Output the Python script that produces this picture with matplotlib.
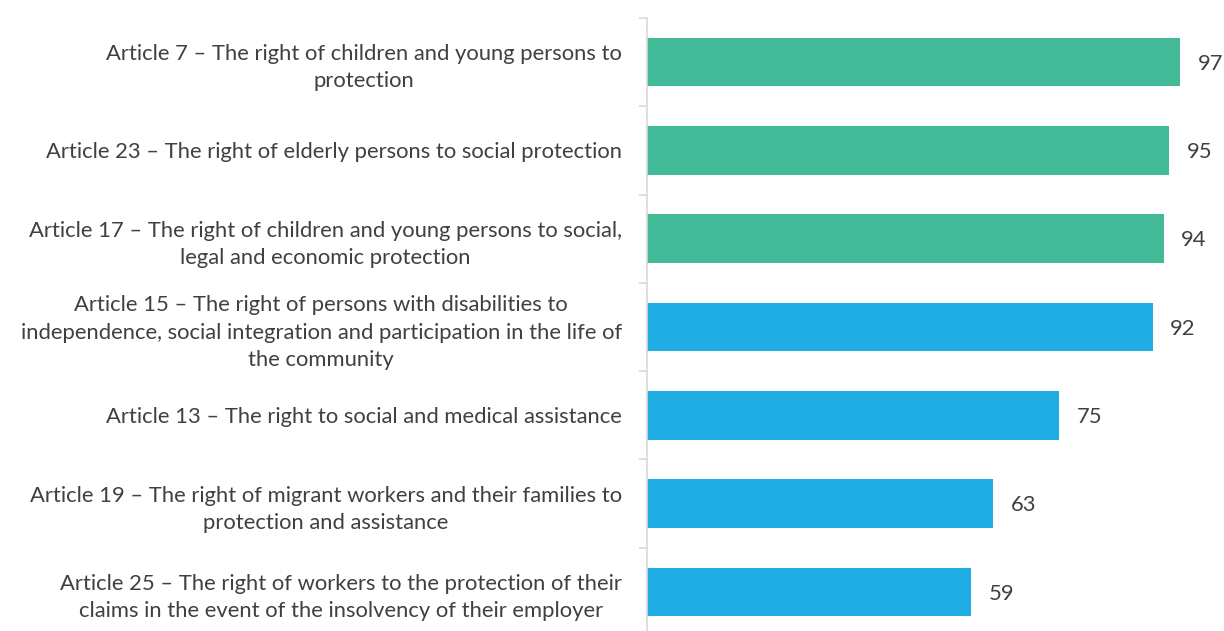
import matplotlib
matplotlib.use("Agg")
import matplotlib.pyplot as plt
import numpy as np

categories = [
    "Article 7 – The right of children and young persons to\nprotection",
    "Article 23 – The right of elderly persons to social protection",
    "Article 17 – The right of children and young persons to social,\nlegal and economic protection",
    "Article 15 – The right of persons with disabilities to\nindependence, social integration and participation in the life of\nthe community",
    "Article 13 – The right to social and medical assistance",
    "Article 19 – The right of migrant workers and their families to\nprotection and assistance",
    "Article 25 – The right of workers to the protection of their\nclaims in the event of the insolvency of their employer",
]
values = [97, 95, 94, 92, 75, 63, 59]
groups = ["green", "green", "green", "blue", "blue", "blue", "blue"]
palette = {"green": "#43BA97", "blue": "#1FADE4"}

plt.rcParams['font.family'] = ['Lato', 'DejaVu Sans']
text_color = "#404040"
fs = 15.8

fig = plt.figure(figsize=(12.24, 6.31), dpi=100)
W, H = 1224, 631
left_px, right_px, top_px, bot_px = 647, 1224, 18, 636
ax = fig.add_axes([left_px / W, 1 - bot_px / H, (right_px - left_px) / W, (bot_px - top_px) / H])

y = np.arange(len(values))
colors = [palette[g] for g in groups]
ax.barh(y, values, height=0.55, color=colors, zorder=2)
ax.set_ylim(len(values) - 0.5, -0.5)
ax.set_xlim(0, 105)

for yi, v in zip(y, values):
    ax.text(v + 3.2, yi + 0.02, str(v), va='center', ha='left', fontsize=fs, color=text_color)

ax.set_yticks(y)
ax.set_yticklabels(categories, fontsize=fs, color=text_color)
for lbl in ax.get_yticklabels():
    lbl.set_multialignment('center')
    lbl.set_linespacing(1.45)
ax.tick_params(axis='y', which='major', length=0, pad=18)
ax.set_yticks(np.arange(len(values) + 1) - 0.5, minor=True)
ax.tick_params(axis='y', which='minor', length=6, color='#d9d9d9', width=1.2)
ax.set_xticks([])

for s in ['top', 'right', 'bottom']:
    ax.spines[s].set_visible(False)
ax.spines['left'].set_color('#d9d9d9')
ax.spines['left'].set_linewidth(1.2)

fig.savefig("out.png", dpi=100)
